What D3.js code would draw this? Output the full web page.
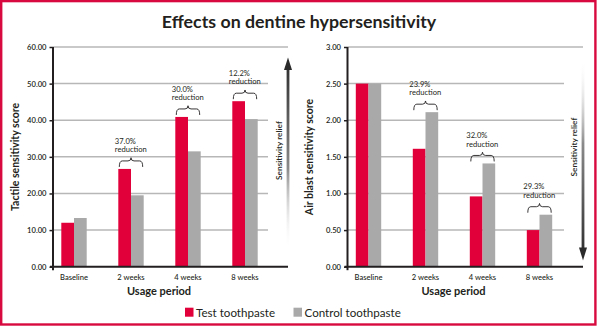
<!DOCTYPE html>
<html>
<head>
<meta charset="utf-8">
<script src="https://cdn.jsdelivr.net/npm/d3@7"></script>
<style>
  html, body { margin: 0; padding: 0; background: #fff; }
  svg { display: block; font-family: Lato, "Open Sans", sans-serif; }
</style>
</head>
<body>
<svg id="chart" width="598" height="326"></svg>
<script>
// Study periods and mean scores for the two toothpastes
const categories = ["Baseline", "2 weeks", "4 weeks", "8 weeks"];
const series = ["Test toothpaste", "Control toothpaste"];

const tactileTest    = [12.0, 26.7, 40.9, 45.2];
const tactileControl = [13.3, 19.5, 31.5, 40.3];
const tactileTicks   = [0, 10, 20, 30, 40, 50, 60];
const tactileNotes   = [null, "37.0%", "30.0%", "12.2%"];

const airTest    = [2.50, 1.61, 0.96, 0.50];
const airControl = [2.50, 2.11, 1.41, 0.71];
const airTicks   = [0, 0.5, 1.0, 1.5, 2.0, 2.5, 3.0];
const airNotes   = [null, "23.9%", "32.0%", "29.3%"];

const RED = "#e2003b";
const GREY = "#a9a9aa";
const INK = "#231f20";

const svg = d3.select("#chart");

// outer frame
svg.append("rect")
  .attr("x", 1.2).attr("y", 1.1)
  .attr("width", 594.2).attr("height", 323.4)
  .attr("fill", "none").attr("stroke", "#d8093e").attr("stroke-width", 2.4);

// title
svg.append("text")
  .attr("x", 299).attr("y", 27.5)
  .attr("text-anchor", "middle")
  .attr("font-size", 17.8).attr("font-weight", 700)
  .attr("fill", INK)
  .text("Effects on dentine hypersensitivity");

const defs = svg.append("defs");

function panel(opt) {
  const g = svg.append("g");
  const yTop = 47, yBase = 266.7;
  const y = d3.scaleLinear().domain([0, d3.max(opt.ticks)]).range([yBase, yTop]);
  const x = d3.scaleBand().domain(categories)
    .range([opt.axisX - 7.5, opt.axisX + 220.5]).padding(0);
  const half = 12.7;
  const xs = d3.scaleBand().domain(series)
    .range([x.bandwidth() / 2 - half, x.bandwidth() / 2 + half]).padding(0);

  // gridlines
  g.append("g").selectAll("line")
    .data(opt.ticks.filter(t => t > 0))
    .join("line")
    .attr("x1", opt.axisX)
    .attr("x2", d => d === d3.max(opt.ticks) ? opt.topEnd : opt.gridEnd)
    .attr("y1", d => y(d)).attr("y2", d => y(d))
    .attr("stroke", "#b7b7b8").attr("stroke-width", 1.5);

  // bars
  const rows = categories.map((c, i) => ({ c, vals: [opt.test[i], opt.control[i]] }));
  const grp = g.append("g").selectAll("g").data(rows).join("g")
    .attr("transform", d => `translate(${x(d.c)},0)`);
  grp.selectAll("rect")
    .data(d => d.vals.map((v, k) => ({ s: series[k], v })))
    .join("rect")
    .attr("x", d => xs(d.s))
    .attr("width", xs.bandwidth())
    .attr("y", d => y(d.v))
    .attr("height", d => y(0) - y(d.v))
    .attr("fill", d => d.s === series[0] ? RED : GREY);

  // y axis
  const ay = g.append("g")
    .attr("transform", `translate(${opt.axisX},0)`)
    .call(d3.axisLeft(y).tickValues(opt.ticks).tickFormat(d3.format(".2f")).tickSize(3.5).tickPadding(3));
  ay.select(".domain").remove();
  ay.selectAll(".tick line").attr("stroke", INK).attr("stroke-width", 1.5);
  ay.selectAll(".tick text")
    .attr("font-family", "Lato, sans-serif")
    .attr("font-size", 7.6).attr("font-weight", 600).attr("fill", INK);
  g.append("line")
    .attr("x1", opt.axisX).attr("x2", opt.axisX)
    .attr("y1", yTop).attr("y2", yBase + 3.5)
    .attr("stroke", INK).attr("stroke-width", 2);
  g.append("line")
    .attr("x1", opt.axisX - 3).attr("x2", opt.topEnd)
    .attr("y1", yBase).attr("y2", yBase)
    .attr("stroke", INK).attr("stroke-width", 2);

  // x tick labels
  g.append("g").selectAll("text").data(categories).join("text")
    .attr("x", d => x(d) + x.bandwidth() / 2)
    .attr("y", 279.5)
    .attr("text-anchor", "middle")
    .attr("font-size", 7.6).attr("font-weight", 500).attr("fill", INK)
    .text(d => d);

  // axis titles
  g.append("text")
    .attr("x", opt.axisX + 106).attr("y", 294.5)
    .attr("text-anchor", "middle")
    .attr("font-size", 11).attr("font-weight", 700).attr("fill", INK)
    .text("Usage period");
  g.append("text")
    .attr("transform", `translate(${opt.axisX - 34.5},157) rotate(-90)`)
    .attr("text-anchor", "middle")
    .attr("font-size", 10.5).attr("font-weight", 700).attr("fill", INK)
    .text(opt.yTitle);

  // reduction braces
  rows.forEach((r, i) => {
    const note = opt.notes[i];
    if (!note) return;
    const x0 = x(r.c) + xs(series[0]) + 1;
    const x1 = x(r.c) + xs(series[1]) + xs.bandwidth() - 1;
    const xm = (x0 + x1) / 2;
    const top = y(d3.max(r.vals));
    const tip = top - 11.2, mid = tip + 3.2, end = top - 2;
    const q = 3;
    const p = d3.path();
    p.moveTo(x0, end);
    p.quadraticCurveTo(x0, mid, x0 + q, mid);
    p.lineTo(xm - q, mid);
    p.quadraticCurveTo(xm, mid, xm, tip);
    p.quadraticCurveTo(xm, mid, xm + q, mid);
    p.lineTo(x1 - q, mid);
    p.quadraticCurveTo(x1, mid, x1, end);
    g.append("path").attr("d", p.toString())
      .attr("fill", "none").attr("stroke", INK).attr("stroke-width", 0.9);
    const t = g.append("text")
      .attr("x", x0 - 4.5)
      .attr("font-size", 7.6).attr("fill", INK);
    t.append("tspan").attr("x", x0 - 4.5).attr("y", tip - 14.2).text(note);
    t.append("tspan").attr("x", x0 - 4.5).attr("y", tip - 5.6).text("reduction");
  });

  // sensitivity relief arrow
  const gid = "grad" + opt.id;
  const lg = defs.append("linearGradient").attr("id", gid)
    .attr("x1", 0).attr("x2", 0).attr("y1", 0).attr("y2", 1);
  const stops = opt.up
    ? [["0%", "#333", 1], ["55%", "#8a8a8a", 1], ["100%", "#fff", 0]]
    : [["0%", "#fff", 0], ["45%", "#8a8a8a", 1], ["100%", "#333", 1]];
  stops.forEach(s => lg.append("stop").attr("offset", s[0]).attr("stop-color", s[1]).attr("stop-opacity", s[2]));
  const ax = opt.topEnd;
  const shaftTop = opt.up ? 69 : 58, shaftBot = opt.up ? 250 : 248;
  g.append("rect")
    .attr("x", ax - 1.4).attr("width", 2.8)
    .attr("y", shaftTop).attr("height", shaftBot - shaftTop)
    .attr("fill", `url(#${gid})`);
  const head = opt.up
    ? [[ax, 57.5], [ax - 4, 70], [ax + 4, 70]]
    : [[ax, 260.5], [ax - 4, 247.5], [ax + 4, 247.5]];
  g.append("path").attr("d", d3.line()(head) + "Z").attr("fill", "#2b2b2b");
  g.append("text")
    .attr("transform", `translate(${ax - 6},${opt.up ? 150.5 : 147}) rotate(-90)`)
    .attr("text-anchor", "middle")
    .attr("font-size", 8.3).attr("font-weight", 600).attr("fill", INK)
    .text("Sensitivity relief");
}

panel({ id: "t", axisX: 53, gridEnd: 268, topEnd: 288, ticks: tactileTicks,
  test: tactileTest, control: tactileControl, notes: tactileNotes,
  yTitle: "Tactile sensitivity score", up: true });
panel({ id: "a", axisX: 347.5, gridEnd: 564, topEnd: 583, ticks: airTicks,
  test: airTest, control: airControl, notes: airNotes,
  yTitle: "Air blast sensitivity score", up: false });

// legend
const lgd = svg.append("g");
const items = [{ s: series[0], c: RED, x: 185 }, { s: series[1], c: GREY, x: 293.5 }];
items.forEach(it => {
  lgd.append("rect").attr("x", it.x).attr("y", 307.7).attr("width", 8.5).attr("height", 9).attr("fill", it.c);
  lgd.append("text").attr("x", it.x + 11).attr("y", 316.5)
    .attr("font-size", 11.6).attr("fill", INK).text(it.s);
});
</script>
</body>
</html>
